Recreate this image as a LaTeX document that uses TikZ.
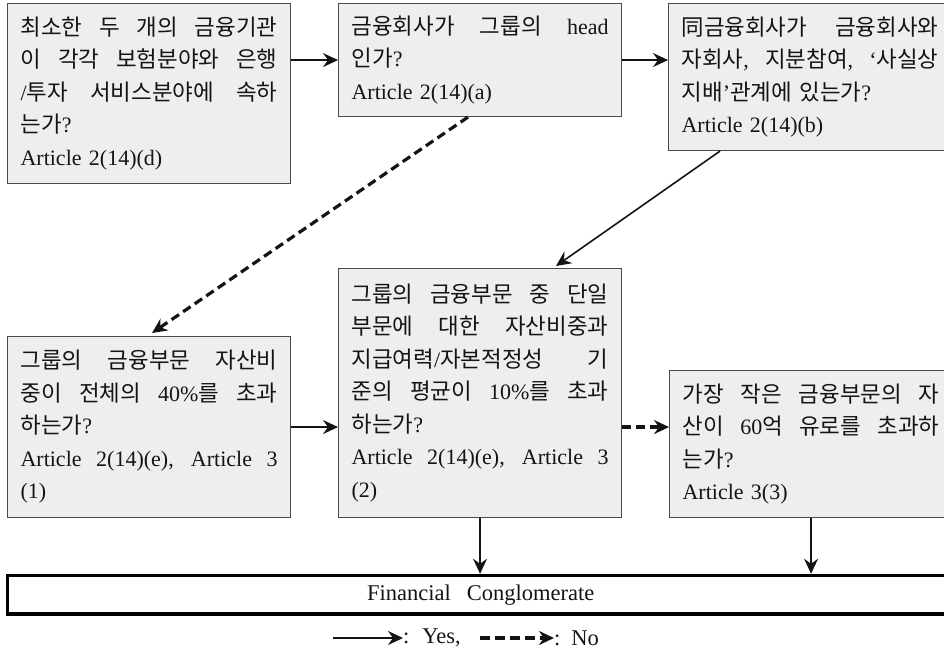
\documentclass[tikz,border=0pt]{standalone}
\usepackage{fontspec}
\setmainfont{Liberation Serif}
\newfontfamily\kr{Noto Sans CJK KR}[Scale=1.02]
\usetikzlibrary{arrows.meta,calc}
\definecolor{boxfill}{HTML}{EEEEEE}
\definecolor{boxline}{HTML}{4A4A4A}
\definecolor{ink}{HTML}{141414}
\newcommand\K[1]{{\kr #1}}
\newcommand\jl[1]{\makebox[257pt][s]{\spaceskip=4pt plus 1fil\xspaceskip=4pt plus 1fil\relax #1}}
\newcommand\boxfont{\fontsize{22}{32.5}\selectfont\spaceskip=10pt\relax}
\newcommand\fcfont{\fontsize{22.5}{26}\selectfont\spaceskip=16pt\relax}
\newcommand\lgfont{\fontsize{22.5}{26}\selectfont\spaceskip=8pt\relax}
\tikzset{
  qbox/.style={draw=boxline, fill=boxfill, line width=1.1pt, inner xsep=13pt, inner ysep=3pt,
    text width=257pt, align=left, anchor=north west, font=\boxfont, text=ink},
  yes/.style={-{Stealth[length=15pt,width=14pt,inset=5pt]}, line width=1.6pt, draw=ink},
  no/.style={yes, dash pattern=on 9pt off 5pt, line width=3.2pt},
  fcbox/.style={draw=black, line width=3.5pt, fill=white, inner sep=0pt, anchor=north west,
    minimum width=956pt, minimum height=38.5pt, font=\fcfont, text=ink},
  legend/.style={inner sep=0pt, font=\lgfont, text=ink, anchor=west}
}
\begin{document}
\begin{tikzpicture}[x=1pt,y=-1pt]
\useasboundingbox (0,0) rectangle (944,654);
\clip (0,0) rectangle (944,654);

\node[qbox, minimum height=180pt] (b1) at (7,3) {%
\jl{\K{최소한 두 개의 금융기관}}\\
\jl{\K{이 각각 보험분야와 은행}}\\
\jl{/\K{투자 서비스분야에 속하}}\\
\K{는가}?\\
Article 2(14)(d)};

\node[qbox, minimum height=113pt] (b2) at (338,3) {%
\jl{\K{금융회사가 그룹의} head}\\
\K{인가}?\\
Article 2(14)(a)};

\node[qbox, minimum height=147pt] (b3) at (668,3) {%
\jl{\K{同금융회사가 금융회사와}}\\
\jl{\K{자회사}, \K{지분참여}, ‘\K{사실상}}\\
\K{지배}’\K{관계에 있는가}?\\
Article 2(14)(b)};

\node[qbox, minimum height=181pt] (b4) at (7,336) {%
\jl{\K{그룹의 금융부문 자산비}}\\
\jl{\K{중이 전체의} 40\%\K{를 초과}}\\
\K{하는가}?\\
\jl{Article 2(14)(e), Article 3}\\
(1)};

\node[qbox, minimum height=249pt] (b5) at (338,268) {%
\jl{\K{그룹의 금융부문 중 단일}}\\
\jl{\K{부문에 대한 자산비중과}}\\
\jl{\K{지급여력}/\K{자본적정성 기}}\\
\jl{\K{준의 평균이} 10\%\K{를 초과}}\\
\K{하는가}?\\
\jl{Article 2(14)(e), Article 3}\\
(2)};

\node[qbox, minimum height=147pt] (b6) at (669,370) {%
\jl{\K{가장 작은 금융부문의 자}}\\
\jl{\K{산이} 60\K{억 유로를 초과하}}\\
\K{는가}?\\
Article 3(3)};

\node[fcbox] (fc) at (5.75,573.75) {\kern-9.5pt Financial Conglomerate};

\draw[yes] (b1.east |- b2.west) -- (b2.west);
\draw[yes] (b2.east) -- (b3.west |- b2.east);
\draw[no] ($(b2.south west)+(130,0)$) -- ($(b4.north west)+(145,-3)$);
\draw[yes] ($(b3.south west)+(52,0)$) -- ($(b5.north west)+(218,-2)$);
\draw[yes] (b4.east) -- (b5.west |- b4.east);
\draw[no] (b5.east |- b4.east) -- (b6.west |- b4.east);
\draw[yes] (b5.south) -- (b5.south |- fc.north);
\draw[yes] (b6.south) -- (b6.south |- fc.north);

\coordinate (ya) at (333,638);
\node[legend] (ly) at (403,638) {:\hspace{13pt}Yes,};
\draw[yes] (ya) -- (ly.west);
\coordinate (na) at (480,638);
\node[legend] (ln) at (554,638) {:\hspace{11pt}No};
\draw[no, dash pattern=on 10pt off 5pt] (na) -- (ln.west);
\end{tikzpicture}
\end{document}
